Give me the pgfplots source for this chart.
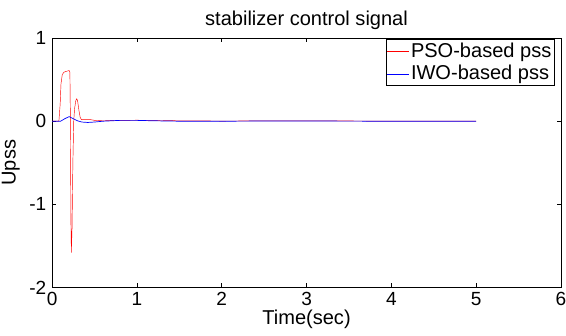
\documentclass[border=0pt]{standalone}
\usepackage{pgfplots}
\pgfplotsset{compat=1.18}
\usepackage{fontspec}
\setmainfont{Liberation Sans}
\usetikzlibrary{calc}
\begin{document}
\fontsize{20}{23}\selectfont
\begin{tikzpicture}
\begin{axis}[
  scale only axis,
  width=508pt, height=249pt,
  xmin=0, xmax=6, ymin=-2, ymax=1,
  xtick={0,1,2,3,4,5,6},
  ytick={-2,-1,0,1},
  tick align=inside,
  tick pos=both,
  major tick length=4pt,
  tick style={black, line width=0.5pt},
  axis line style={line width=0.6pt},
  /pgf/number format/assume math mode=true,
  tick label style={font=\fontsize{19}{22}\selectfont},
  xticklabel style={yshift=2pt},
  yticklabel style={xshift=1pt},
  label style={font=\fontsize{20}{23}\selectfont},
  title style={font=\fontsize{20}{23}\selectfont, yshift=-4pt},
  title={stabilizer control signal},
  xlabel={Time(sec)},
  ylabel={Upss},
  xlabel style={yshift=9pt},
  ylabel style={yshift=-4pt},
  legend style={at={(0.9875,0.995)}, anchor=north east, draw=black, line width=0.6pt,
    font=\fontsize{20}{23}\selectfont, inner sep=1pt, row sep=1pt,
    cells={anchor=west}},
  legend image code/.code={\draw[#1] (0cm,0cm) -- (0.75cm,0cm);},
]
\addplot[red, line width=0.45pt] coordinates {
(0,0) (0.08,0) (0.095,0.2) (0.105,0.45) (0.12,0.56) (0.14,0.59) (0.17,0.6) (0.20,0.61) (0.21,0.59)
(0.215,0.1) (0.222,-1.2) (0.227,-1.58) (0.235,-1.3) (0.245,-0.5) (0.255,0) (0.265,0.15)
(0.28,0.25) (0.29,0.27) (0.30,0.25) (0.315,0.14) (0.33,0.05) (0.345,0.02) (0.38,0.02)
(0.45,0.02) (0.5,0.01) (0.6,0.005) (0.8,0.01) (1.0,0.012) (1.2,0.01) (1.5,0.005)
(2,0.002) (2.5,0.004) (3,0.003) (3.5,0.003) (4,0.001) (4.5,0.001) (5,0)
};
\addlegendentry{PSO-based pss}
\addplot[blue, line width=0.7pt] coordinates {
(0,0) (0.1,0) (0.15,0.03) (0.2,0.055) (0.25,0.03) (0.3,0.005) (0.35,-0.01) (0.42,-0.015)
(0.5,-0.01) (0.6,0) (0.8,0.01) (1.0,0.01) (1.2,0.005) (1.5,0) (2,0) (2.5,0.002) (3,0.002)
(3.5,0.001) (4,0) (4.5,0) (5,0)
};
\addlegendentry{IWO-based pss}
\coordinate (ll) at (rel axis cs:0,0);
\coordinate (ur) at (rel axis cs:1,1);
\end{axis}
\pgfresetboundingbox
\path ($(ll)+(-52pt,-48pt)$) rectangle ($(ur)+(5pt,38pt)$);
\end{tikzpicture}
\end{document}
